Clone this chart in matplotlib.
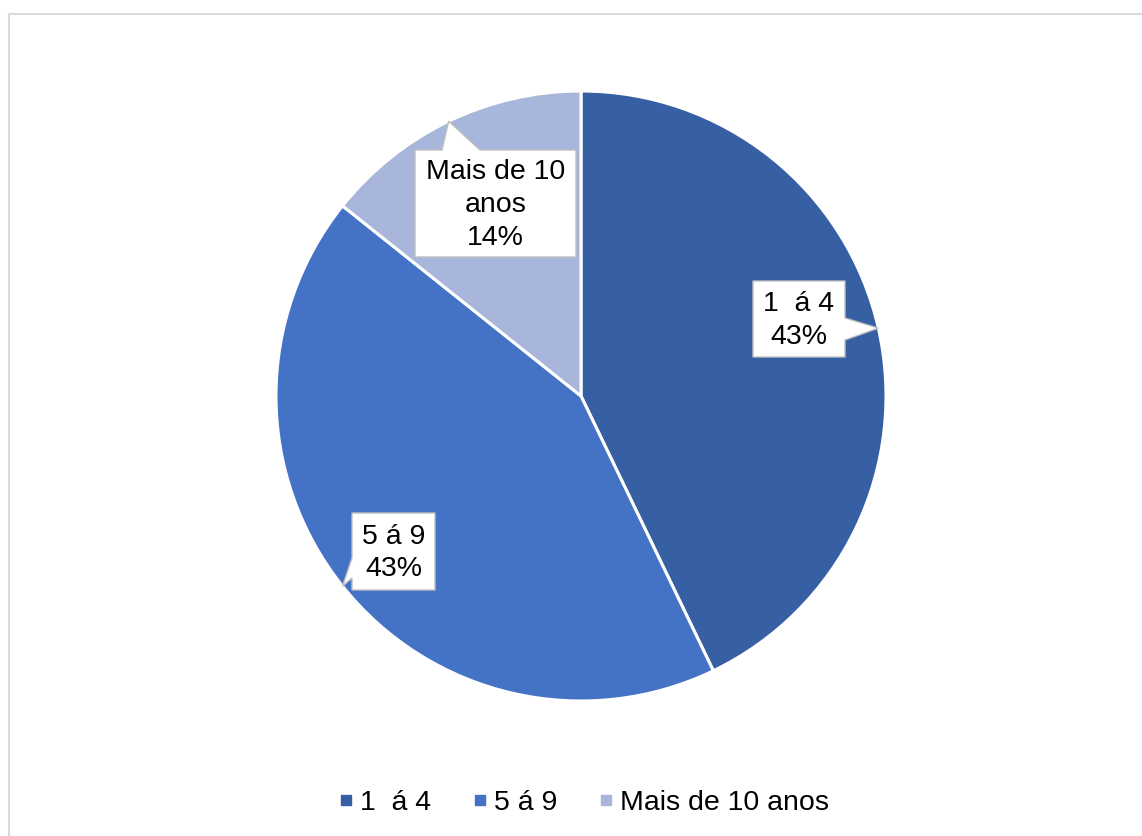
import numpy as np
import matplotlib
matplotlib.use("Agg")
import matplotlib.pyplot as plt
from matplotlib.patches import Polygon
from matplotlib.lines import Line2D

plt.rcParams['font.family'] = ['Liberation Sans', 'DejaVu Sans']

# ---- data ----
categories = ["1  á 4", "5 á 9", "Mais de 10 anos"]
label_names = ["1  á 4", "5 á 9", "Mais de 10\nanos"]
values = [3, 3, 1]
colors = ["#365FA4", "#4472C4", "#A8B6DB"]

W, H = 1142, 836
fig = plt.figure(figsize=(W / 100, H / 100), dpi=100)

# outer chart border (only left/top visible in reference)
fig.lines.append(Line2D([8.5 / W, 8.5 / W, 1.0], [0.0, 1 - 13.5 / H, 1 - 13.5 / H],
                        transform=fig.transFigure, color="#D9D9D9", linewidth=1.5))

cx, cy, R = 581, 396, 305
ax = fig.add_axes([(cx - R) / W, (H - cy - R) / H, 2 * R / W, 2 * R / H])
wedges, _ = ax.pie(values, colors=colors, startangle=90, counterclock=False,
                   radius=1.0, wedgeprops=dict(edgecolor="white", linewidth=2.2))
ax.set_xlim(-1, 1)
ax.set_ylim(-1, 1)
ax.set_aspect("equal")
ax.axis("off")

total = sum(values)
pcts = [f"{round(100 * v / total)}%" for v in values]


def px(x, y):
    return ((x - cx) / R, (cy - y) / R)


# layout of callout boxes (pixel space): left, top, right, bottom, side, base (a, b)
boxes = [
    dict(l=753, t=281, r=845, b=357, side="right", base=(318, 340)),
    dict(l=352, t=513, r=435, b=590, side="left", base=(558, 578)),
    dict(l=415, t=150, r=576, b=257, side="top", base=(442, 480)),
]

for w, name, pct, bx in zip(wedges, label_names, pcts, boxes):
    mid = np.deg2rad((w.theta1 + w.theta2) / 2)
    tip = (np.cos(mid) * w.r, np.sin(mid) * w.r)
    l, t, r, b = bx["l"], bx["t"], bx["r"], bx["b"]
    a1, a2 = bx["base"]
    if bx["side"] == "right":
        pts = [px(l, t), px(r, t), px(r, a1), tip, px(r, a2), px(r, b), px(l, b)]
    elif bx["side"] == "left":
        pts = [px(l, t), px(r, t), px(r, b), px(l, b), px(l, a2), tip, px(l, a1)]
    else:
        pts = [px(l, t), px(a1, t), tip, px(a2, t), px(r, t), px(r, b), px(l, b)]
    ax.add_patch(Polygon(pts, closed=True, facecolor="white", edgecolor="#BFBFBF",
                         linewidth=1.0, zorder=5, clip_on=False))
    tx, ty = px((l + r) / 2, (t + b) / 2 + 1.5)
    ax.text(tx, ty, f"{name}\n{pct}", ha="center", va="center", fontsize=20.5,
            linespacing=1.34, zorder=6, color="black")

handles = [Line2D([], [], marker="s", linestyle="none", markersize=6.5,
                  markerfacecolor=c, markeredgecolor=c) for c in colors]
fig.legend(handles, categories, loc="center",
           bbox_to_anchor=(0.5 + 13 / W, 1 - 803 / H),
           ncol=3, frameon=False, fontsize=20.5, handlelength=0.5, handletextpad=0.25,
           columnspacing=1.45)

fig.savefig("out.png", dpi=100, facecolor="white")
